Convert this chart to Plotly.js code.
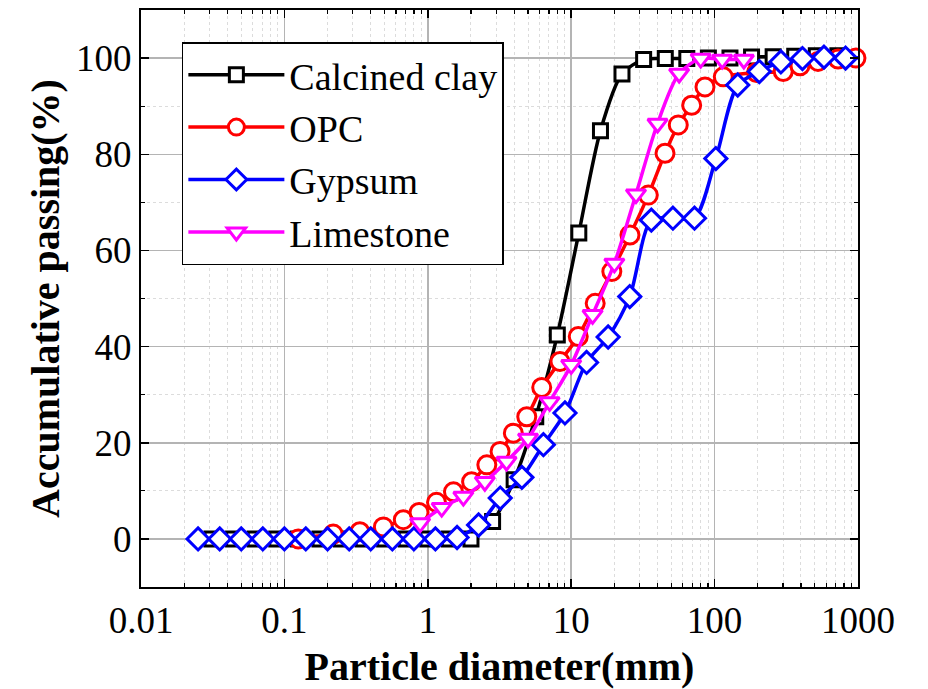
<!DOCTYPE html>
<html>
<head>
<meta charset="utf-8">
<script src="https://cdn.plot.ly/plotly-3.0.1.min.js"></script>
<style>html,body{margin:0;padding:0;background:#fff;}#chart{width:928px;height:689px;}</style>
</head>
<body>
<div id="chart"></div>
<script>
// Calcined clay
const clayX = [0.03125, 0.0442, 0.0625, 0.0884, 0.125, 0.177, 0.25, 0.354, 0.5, 0.707, 1, 1.41, 2, 2.83, 4, 5.66, 8, 11.3, 16, 22.6, 32, 45.3, 64, 90.5, 128, 181, 256, 362, 512, 724, 1024];
const clayY = [0, 0, 0, 0, 0, 0, 0, 0, 0, 0, 0, 0, 0, 3.6, 12.3, 25.4, 42.4, 63.6, 84.9, 96.7, 99.7, 99.9, 99.9, 100, 100, 100.2, 100.3, 100.4, 100.5, 100.5, 100.5];
// OPC
const opcX = [0.125, 0.219, 0.336, 0.49, 0.675, 0.869, 1.15, 1.51, 2.02, 2.58, 3.19, 3.95, 4.9, 6.23, 8.35, 11.2, 14.7, 19.2, 25.7, 34.5, 45.1, 55.8, 69.2, 85.7, 115, 196, 301, 394, 526, 726, 968];
const opcY = [0, 1.0, 1.5, 2.5, 4.0, 5.5, 7.6, 9.8, 11.9, 15.4, 18.2, 22.0, 25.4, 31.5, 36.9, 42.1, 49.0, 55.6, 63.2, 71.5, 80.2, 86.1, 90.2, 94.0, 96.1, 97.0, 97.2, 98.4, 99.3, 99.8, 100];
// Gypsum
const gypX = [0.025, 0.0354, 0.05, 0.0707, 0.1, 0.141, 0.2, 0.283, 0.4, 0.566, 0.8, 1.13, 1.6, 2.26, 3.2, 4.53, 6.4, 9.05, 12.8, 18.1, 25.6, 36.2, 51.2, 72.4, 102, 145, 205, 290, 410, 579, 819, 1160];
const gypY = [0, 0, 0, 0, 0, 0, 0, 0, 0, 0, 0, 0, 0.3, 2.9, 8.5, 12.8, 19.6, 26.2, 36.7, 42.0, 50.4, 66.3, 66.7, 66.7, 79.1, 94.4, 97.2, 99.2, 99.9, 100.2, 100, 100.2];
// Limestone
const limeX = [0.884, 1.25, 1.77, 2.5, 3.54, 5, 7.07, 10, 14.1, 20, 28.3, 40, 56.6, 80, 113, 160];
const limeY = [3.3, 6.5, 8.8, 11.9, 16.1, 20.9, 28.5, 36.2, 46.6, 57.3, 71.7, 86.4, 96.8, 99.9, 99.7, 99.7];

const seriesNames = ['Calcined clay', 'OPC', 'Gypsum', 'Limestone'];
const xTickVals = [0.01, 0.1, 1, 10, 100, 1000];
const xTickText = ['0.01', '0.1', '1', '10', '100', '1000'];
const yTickVals = [0, 20, 40, 60, 80, 100];

const FONT = '"Liberation Serif", "Times New Roman", serif';

function tr(x, y, name, color, symbol, size) {
  return {
    x: x, y: y, name: name, type: 'scatter', mode: 'lines+markers',
    line: {color: color, width: 3.5, shape: 'spline', smoothing: 0.8},
    marker: {symbol: symbol, size: size, color: '#ffffff', line: {color: color, width: 3}},
    cliponaxis: false
  };
}

const data = [
  tr(clayX, clayY, seriesNames[0], '#000000', 'square', 14),
  tr(opcX, opcY, seriesNames[1], '#ff0000', 'circle', 18),
  tr(gypX, gypY, seriesNames[2], '#0000ff', 'diamond', 17),
  tr(limeX, limeY, seriesNames[3], '#ff00ff', 'triangle-down', 17)
];

const layout = {
  width: 928, height: 689,
  margin: {l: 141, r: 70, t: 10, b: 102},
  paper_bgcolor: '#ffffff', plot_bgcolor: '#ffffff',
  font: {family: FONT, color: '#000000', size: 37},
  showlegend: true,
  legend: {
    x: 0.057, y: 0.9445, xanchor: 'left', yanchor: 'top',
    bgcolor: '#ffffff', bordercolor: '#000000', borderwidth: 1.5,
    font: {family: FONT, size: 38, color: '#000000'},
    itemwidth: 96, tracegroupgap: 0
  },
  xaxis: {
    type: 'log', range: [-2, 3],
    tickmode: 'array', tickvals: xTickVals, ticktext: xTickText,
    ticks: 'inside', ticklen: 8, tickwidth: 1.5, tickcolor: '#000',
    showline: true, linecolor: '#000', linewidth: 2, mirror: 'allticks',
    showgrid: true, gridcolor: '#b4b4b4', gridwidth: 1.5,
    zeroline: false,
    tickfont: {family: FONT, size: 37},
    minor: {dtick: 'D1', ticks: 'inside', ticklen: 4, tickcolor: '#000', tickwidth: 1.2, showgrid: true, gridcolor: '#dcdcdc', griddash: 'dot', gridwidth: 1},
    title: {text: '<b>Particle diameter(mm)</b>', font: {family: FONT, size: 40}, standoff: 14},
    automargin: false
  },
  yaxis: {
    range: [-10, 110],
    tickmode: 'array', tickvals: yTickVals,
    ticks: 'inside', ticklen: 8, tickwidth: 1.5, tickcolor: '#000',
    showline: true, linecolor: '#000', linewidth: 2, mirror: 'allticks',
    showgrid: true, gridcolor: '#b4b4b4', gridwidth: 1.5,
    zeroline: false,
    tickfont: {family: FONT, size: 37},
    minor: {dtick: 10, ticks: 'inside', ticklen: 4, tickcolor: '#000', tickwidth: 1.2, showgrid: true, gridcolor: '#dcdcdc', griddash: 'dot', gridwidth: 1},
    title: {text: '<b>Accumulative passing(%)</b>', font: {family: FONT, size: 40}, standoff: 4},
    automargin: false
  }
};

Plotly.newPlot('chart', data, layout, {displayModeBar: false, staticPlot: true});
</script>
</body>
</html>
